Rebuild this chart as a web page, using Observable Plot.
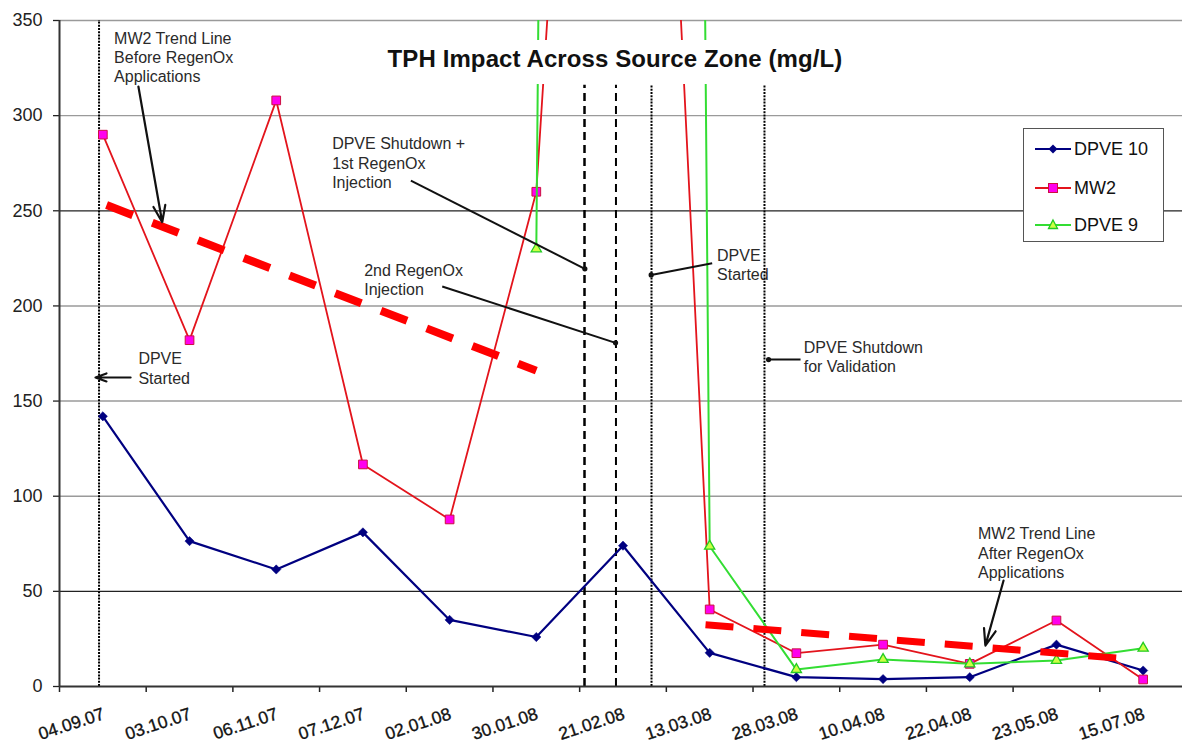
<!DOCTYPE html>
<html>
<head>
<meta charset="utf-8">
<script src="https://cdn.jsdelivr.net/npm/d3@7"></script>
<script src="https://cdn.jsdelivr.net/npm/@observablehq/plot@0.6"></script>
<style>
  html, body { margin: 0; padding: 0; background: #fff; overflow: hidden; }
  #wrap { position: relative; width: 1182px; height: 747px; font-family: "Liberation Sans", Arial, sans-serif; }
  #title { position: absolute; left: 370px; top: 40px; width: 490px; height: 44px; line-height: 38px;
           background: #fff; text-align: center; font-weight: bold; font-size: 24px; color: #111; letter-spacing: 0.1px; }
  #legend { position: absolute; left: 1023px; top: 128px; width: 139px; height: 112px;
            border: 1.5px solid #555; background: #fff; }
  .lrow { position: absolute; left: 0; height: 24px; width: 139px; }
  .lrow svg { position: absolute; left: 11px; top: 0; }
  .lrow span { position: absolute; left: 50px; top: 1px; font-size: 18px; line-height: 22px; color: #111; }
</style>
</head>
<body>
<div id="wrap">
  <div id="chart"></div>
  <div id="title">TPH Impact Across Source Zone (mg/L)</div>
  <div id="legend"></div>
</div>
<script>
// ---- data ----
const dates = ["04.09.07","03.10.07","06.11.07","07.12.07","02.01.08","30.01.08","21.02.08","13.03.08","28.03.08","10.04.08","22.04.08","23.05.08","15.07.08"];
const dpve10 = [142, 76.4, 61.5, 81, 35, 26, 74, 17.7, 4.9, 3.9, 4.9, 22, 8.4];
const mw2    = [290, 182, 308, 116.7, 87.8, 260, 975, 40.5, 17.5, 22, 11.9, 34.7, 3.7];
const dpve9  = [null, null, null, null, null, 230, 5400, 73.7, 8.9, 14.2, 11.9, 13.7, 20.1];
const yTicks = [0, 50, 100, 150, 200, 250, 300, 350];

// trend lines (x in sample-index units, y in mg/L)
const trendBefore = [{x: 0.043, y: 253}, {x: 5.0, y: 166}];
const trendAfter  = [{x: 6.952, y: 32.5}, {x: 11.739, y: 14.8}];

// event lines (x in sample-index units)
const eventsDotted = [{x: -0.044, top: 350}, {x: 6.329, top: 316}, {x: 7.632, top: 316}];
const eventsDashed = [{x: 5.556, top: 316, w: 2.5}, {x: 5.919, top: 316, w: 2}];

// annotations
const notes = [
  {text: "MW2 Trend Line\nBefore RegenOx\nApplications", x: 0.13, y: 331},
  {text: "DPVE\nStarted", x: 0.41, y: 167.5},
  {text: "DPVE Shutdown +\n1st RegenOx\nInjection", x: 2.645, y: 275.4},
  {text: "2nd RegenOx\nInjection", x: 3.015, y: 214},
  {text: "DPVE\nStarted", x: 7.085, y: 221.8},
  {text: "DPVE Shutdown\nfor Validation", x: 8.085, y: 173.4},
  {text: "MW2 Trend Line\nAfter RegenOx\nApplications", x: 10.095, y: 70.4}
];
const arrows = [
  {x1: 0.41, y1: 315.3, x2: 0.685, y2: 244},
  {x1: 0.32, y1: 162.4, x2: -0.085, y2: 162.4},
  {x1: 10.39, y1: 55.7, x2: 10.18, y2: 21.5}
];
const connectors = [
  {x1: 3.553, y1: 265.9, x2: 5.56, y2: 219.5},
  {x1: 3.915, y1: 210.2, x2: 5.914, y2: 180.6},
  {x1: 7.029, y1: 222.4, x2: 6.325, y2: 216.3},
  {x1: 8.048, y1: 171.8, x2: 7.679, y2: 171.8}
];

// ---- build ----
const rows = dates.map((d, i) => ({i, date: d, dpve10: dpve10[i], mw2: mw2[i], dpve9: dpve9[i]}));
const boundaries = d3.range(-0.5, 12, 1);

const diamond = {
  draw(ctx, size) {
    const h = Math.sqrt(size / Math.PI) * 1.1;
    ctx.moveTo(0, -h); ctx.lineTo(h, 0); ctx.lineTo(0, h); ctx.lineTo(-h, 0); ctx.closePath();
  }
};

const C10 = "#000080", CMW = "#e3141c", C9 = "#33dd33";

const chart = Plot.plot({
  width: 1182,
  height: 747,
  marginLeft: 59,
  marginRight: 0,
  marginTop: 20,
  marginBottom: 61,
  x: {domain: [-0.5, 12.454], axis: null, label: null},
  y: {domain: [0, 350], axis: null, label: null},
  style: {fontFamily: "'Liberation Sans', Arial, sans-serif", background: "#fff", color: "#222"},
  marks: [
    Plot.ruleY([100, 150, 200, 300, 350], {stroke: "#9a9a9a", strokeWidth: 1.4}),
    Plot.ruleY([50, 250], {stroke: "#222", strokeWidth: 1.2}),
    Plot.axisY({ticks: yTicks, tickSize: 6, tickPadding: 11, fontSize: 18, label: null, strokeWidth: 1.3}),
    Plot.axisX({ticks: boundaries, tickSize: 6, tickFormat: () => "", label: null, strokeWidth: 1.5}),
    Plot.text(dates, {x: (d, i) => i, frameAnchor: "bottom", dx: 1, dy: 27, rotate: -18, textAnchor: "end",
                      lineAnchor: "middle", fontSize: 17.5, fill: "#111", stroke: "#111", strokeWidth: 0.35,
                      text: d => d}),
    // event lines
    Plot.ruleX(eventsDotted, {x: "x", y1: 0, y2: "top", stroke: "#000", strokeWidth: 2, strokeDasharray: "2,1.2"}),
    Plot.ruleX(eventsDashed, {x: "x", y1: 0, y2: "top", stroke: "#000", strokeWidth: "w", strokeDasharray: "8,5"}),
    // axes lines
    Plot.ruleX([-0.5], {stroke: "#333", strokeWidth: 2}),
    Plot.ruleY([0], {stroke: "#333", strokeWidth: 2}),
    // series
    Plot.line(rows, {x: "i", y: "dpve10", stroke: C10, strokeWidth: 2.2, clip: true}),
    Plot.dot(rows, {x: "i", y: "dpve10", symbol: diamond, r: 4.2, fill: C10, stroke: C10, strokeWidth: 0.5, clip: true}),
    Plot.line(rows, {x: "i", y: "mw2", stroke: CMW, strokeWidth: 1.8, clip: true}),
    Plot.dot(rows, {x: "i", y: "mw2", symbol: "square", r: 4.9, fill: "#ff00ee", stroke: "#cc1040", strokeWidth: 1, clip: true}),
    Plot.line(rows, {x: "i", y: "dpve9", stroke: C9, strokeWidth: 2, clip: true}),
    Plot.dot(rows, {x: "i", y: "dpve9", symbol: "triangle", r: 3.8, fill: "#ccff44", stroke: "#22cc22", strokeWidth: 1.3, clip: true}),
    // trend lines
    Plot.line(trendBefore, {x: "x", y: "y", stroke: "#ff0000", strokeWidth: 8, strokeDasharray: "28,21", strokeLinecap: "butt"}),
    Plot.line(trendAfter, {x: "x", y: "y", stroke: "#ff0000", strokeWidth: 7, strokeDasharray: "28,20", strokeLinecap: "butt"}),
    // annotations
    Plot.link(connectors, {x1: "x1", y1: "y1", x2: "x2", y2: "y2", stroke: "#111", strokeWidth: 2}),
    Plot.dot(connectors, {x: "x2", y: "y2", r: 2.6, fill: "#111"}),
    Plot.arrow(arrows, {x1: "x1", y1: "y1", x2: "x2", y2: "y2", stroke: "#111", strokeWidth: 2.2, headLength: 12, headAngle: 40}),
    Plot.text(notes, {x: "x", y: "y", text: "text", textAnchor: "start", lineAnchor: "middle", lineHeight: 1.2,
                      fontSize: 16, fill: "#2a2a2a"})
  ]
});
document.getElementById("chart").appendChild(chart);

// legend
const legendItems = [
  {name: "DPVE 10", color: C10, sym: "diamond", fill: C10, stroke: C10, top: 8},
  {name: "MW2", color: CMW, sym: "square", fill: "#ff00ee", stroke: "#cc1040", top: 46.5},
  {name: "DPVE 9", color: C9, sym: "triangle", fill: "#ccff44", stroke: "#22cc22", top: 84}
];
const legend = document.getElementById("legend");
for (const it of legendItems) {
  let m;
  if (it.sym === "diamond") m = `<path d="M18,7.5 L22.5,12 L18,16.5 L13.5,12 Z" fill="${it.fill}"/>`;
  else if (it.sym === "square") m = `<rect x="13.5" y="7.5" width="9" height="9" fill="${it.fill}" stroke="${it.stroke}" stroke-width="1"/>`;
  else m = `<path d="M18,7 L22.5,15.5 L13.5,15.5 Z" fill="${it.fill}" stroke="${it.stroke}" stroke-width="1.3"/>`;
  const row = document.createElement("div");
  row.className = "lrow";
  row.style.top = it.top + "px";
  row.innerHTML = `<svg width="36" height="24"><line x1="0" y1="12" x2="36" y2="12" stroke="${it.color}" stroke-width="2"/>${m}</svg><span>${it.name}</span>`;
  legend.appendChild(row);
}
</script>
</body>
</html>
